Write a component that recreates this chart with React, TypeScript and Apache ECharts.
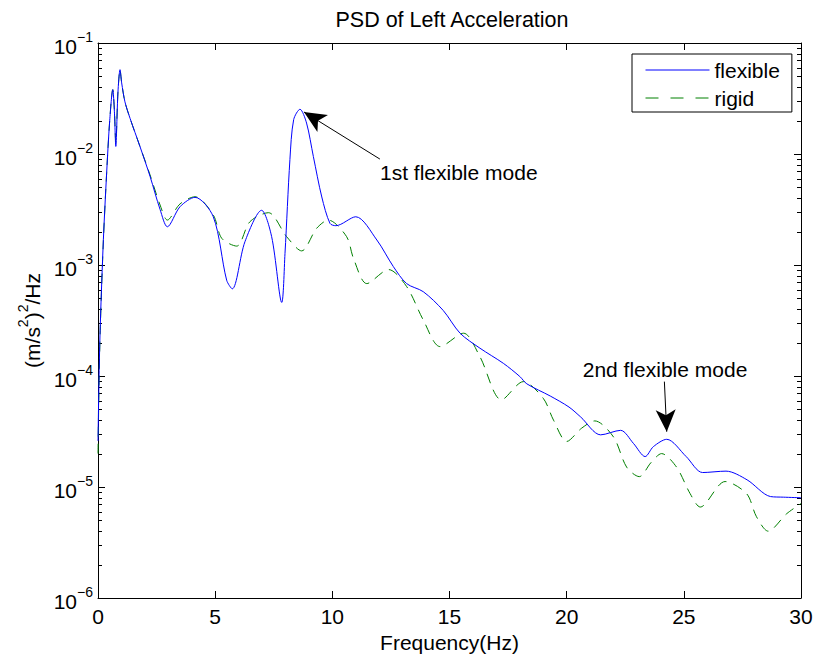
import React, { useEffect, useRef } from "react";
import * as echarts from "echarts";

const FONT = "'Liberation Sans', Arial, Helvetica, sans-serif";

// Flexible model PSD (Hz, (m/s^2)^2/Hz)
const flexFreq = [
  0.0, 0.05, 0.1, 0.23, 0.37, 0.5, 0.63, 0.7, 0.76, 0.85, 0.94, 1.01, 1.15, 1.37, 1.79, 2.22, 2.65, 2.96,
  3.5, 4.14, 4.92, 5.49, 5.73, 6.27, 6.98, 7.41, 7.84, 7.98, 8.19, 8.35, 8.62, 8.9, 9.19, 9.55, 9.9, 10.15,
  11.0, 11.9, 12.6, 13.17, 13.88, 14.73, 15.45, 16.3, 17.3, 18.0, 18.3, 19.3, 20.1, 20.6, 21.45, 22.3, 22.85,
  23.35, 23.7, 24.27, 25.1, 25.8, 26.8, 27.7, 28.7, 29.25, 30.0,
];
const flexPsd = [
  2.6e-5, 1.12e-4, 3.0e-4, 1.7e-3, 6.8e-3, 2.0e-2, 3.8e-2, 2.4e-2, 1.17e-2, 3.55e-2, 5.75e-2, 4.37e-2, 2.95e-2,
  2.09e-2, 1.17e-2, 6.3e-3, 3.16e-3, 2.21e-3, 3.35e-3, 4.07e-3, 2.72e-3, 7.3e-4, 6.1e-4, 1.62e-3, 3.11e-3,
  1.8e-3, 4.6e-4, 1.27e-3, 8.9e-3, 2.04e-2, 2.53e-2, 1.9e-2, 9.5e-3, 4.1e-3, 2.37e-3, 2.26e-3, 2.72e-3,
  1.68e-3, 9.7e-4, 6.8e-4, 5.75e-4, 3.9e-4, 2.43e-4, 1.78e-4, 1.3e-4, 9.9e-5, 8.5e-5, 6.6e-5, 5.25e-5,
  4.27e-5, 2.95e-5, 3.24e-5, 2.47e-5, 1.88e-5, 2.31e-5, 2.69e-5, 1.88e-5, 1.35e-5, 1.39e-5, 1.16e-5, 8.2e-6,
  8.1e-6, 8.0e-6,
];

// Rigid model PSD
const rigidFreq = [
  0.0, 0.05, 0.1, 0.23, 0.37, 0.5, 0.63, 0.7, 0.76, 0.85, 0.94, 1.01, 1.15, 1.37, 1.79, 2.22, 2.65, 2.96,
  3.5, 4.14, 4.92, 5.28, 5.92, 6.48, 7.27, 8.05, 8.69, 9.33, 9.83, 10.61, 10.9, 11.47, 12.4, 13.17, 13.88,
  14.6, 15.6, 16.3, 17.22, 18.15, 19.0, 19.44, 20.0, 20.64, 21.2, 22.0, 22.56, 23.1, 23.6, 24.05, 24.69,
  25.27, 25.7, 26.76, 27.68, 28.1, 28.6, 29.39, 30.0,
];
const rigidPsd = [
  2.0e-5, 1.0e-4, 2.8e-4, 1.66e-3, 6.8e-3, 2.0e-2, 3.8e-2, 2.5e-2, 1.26e-2, 3.55e-2, 5.75e-2, 4.37e-2, 2.95e-2,
  2.09e-2, 1.17e-2, 6.5e-3, 3.47e-3, 2.54e-3, 3.55e-3, 4.12e-3, 2.82e-3, 1.74e-3, 1.48e-3, 2.45e-3, 2.96e-3,
  1.8e-3, 1.34e-3, 2.14e-3, 2.54e-3, 1.8e-3, 1.15e-3, 6.8e-4, 9.1e-4, 6.4e-4, 3.2e-4, 1.84e-4, 2.43e-4,
  1.49e-4, 6.1e-5, 8.9e-5, 6.3e-5, 4.0e-5, 2.57e-5, 3.39e-5, 3.94e-5, 2.82e-5, 1.51e-5, 1.24e-5, 1.66e-5,
  2.0e-5, 1.51e-5, 8.7e-6, 6.6e-6, 1.12e-5, 8.7e-6, 5.4e-6, 4.0e-6, 5.75e-6, 7.1e-6,
];

// Axis settings
const xMin = 0;
const xMax = 30;
const xInterval = 5;
const yMin = 1e-6;
const yMax = 1e-1;
const minorDecades = [-6, -5, -4, -3, -2];
const minorMultipliers = [2, 3, 4, 5, 6, 7, 8, 9];

// Annotations: [tail, tip] in data coordinates
const annoTexts = ["1st flexible mode", "2nd flexible mode"];
const annoTail = [
  [12.03, 9.0e-3],
  [24.17, 8.9e-5],
];
const annoTip = [
  [8.79, 2.39e-2],
  [24.27, 3.15e-5],
];

const seriesNames = ["flexible", "rigid"];

export default function App() {
  const ref = useRef<HTMLDivElement>(null);

  useEffect(() => {
    document.body.style.margin = "0";
    const chart = echarts.init(ref.current!, undefined, { renderer: "svg" });

    const flexData = flexFreq.map((f, i) => [f, flexPsd[i]]);
    const rigidData = rigidFreq.map((f, i) => [f, rigidPsd[i]]);
    const minorTicks: number[][] = [];
    minorDecades.forEach((d) => {
      minorMultipliers.forEach((m) => {
        minorTicks.push([xMin, m * Math.pow(10, d)]);
      });
    });

    const axisColor = "#000";
    const labelRich = {
      b: {
        fontSize: 21,
        fontFamily: FONT,
        color: "#000",
        padding: [6, 0, 0, 0],
        verticalAlign: "bottom",
      },
      e: {
        fontSize: 14,
        fontFamily: FONT,
        color: "#000",
        verticalAlign: "top",
      },
    };

    const option: any = {
      animation: false,
      backgroundColor: "#fff",
      title: {
        text: "PSD of Left Acceleration",
        left: 447,
        textAlign: "center",
        top: 4,
        textStyle: { fontSize: 21.5, fontWeight: "normal", fontFamily: FONT, color: "#000" },
      },
      grid: { left: 98, top: 43, right: 15, bottom: 65 },
      legend: {
        data: [
          { name: seriesNames[0], lineStyle: { width: 1, type: "solid" } },
          { name: seriesNames[1], lineStyle: { width: 1, type: [13, 12] } },
        ],
        orient: "vertical",
        left: 632,
        top: 54,
        padding: [4, 12, 2, 13],
        itemWidth: 64,
        itemHeight: 14,
        itemGap: 4,
        backgroundColor: "#fff",
        borderColor: "#000",
        borderWidth: 1,
        borderRadius: 0,
        itemStyle: { opacity: 0, borderWidth: 0 },
        lineStyle: { width: 1 },
        textStyle: { fontSize: 21, fontFamily: FONT, color: "#000", lineHeight: 24 },
      },
      xAxis: [
        {
          type: "value",
          min: xMin,
          max: xMax,
          interval: xInterval,
          position: "bottom",
          axisLine: { show: true, onZero: false, lineStyle: { color: axisColor, width: 1 } },
          axisTick: { show: true, inside: true, length: 7, lineStyle: { color: axisColor } },
          splitLine: { show: false },
          axisLabel: { fontSize: 21, fontFamily: FONT, color: "#000", margin: 8 },
          name: "Frequency(Hz)",
          nameLocation: "middle",
          nameGap: 33,
          nameTextStyle: { fontSize: 21, fontFamily: FONT, color: "#000" },
        },
        {
          type: "value",
          min: xMin,
          max: xMax,
          interval: xInterval,
          position: "top",
          axisLine: { show: true, onZero: false, lineStyle: { color: axisColor, width: 1 } },
          axisTick: { show: true, inside: true, length: 7, lineStyle: { color: axisColor } },
          splitLine: { show: false },
          axisLabel: { show: false },
        },
      ],
      yAxis: [
        {
          type: "log",
          logBase: 10,
          min: yMin,
          max: yMax,
          position: "left",
          axisLine: { show: true, onZero: false, lineStyle: { color: axisColor, width: 1 } },
          axisTick: { show: true, inside: true, length: 7, lineStyle: { color: axisColor } },
          splitLine: { show: false },
          axisLabel: {
            margin: 5,
            formatter: (v: number) => `{b|10}{e|\u2212${Math.abs(Math.round(Math.log10(v)))}}`,
            rich: labelRich,
          },
          name: "{a|(m/s}{s|2}{a|)}{s|2}{a|/Hz}",
          nameLocation: "middle",
          nameGap: 55,
          nameRotate: 90,
          nameTextStyle: {
            rich: {
              a: { fontSize: 21, fontFamily: FONT, color: "#000", padding: [6, 0, 0, 0], verticalAlign: "bottom" },
              s: { fontSize: 14, fontFamily: FONT, color: "#000", verticalAlign: "top" },
            },
          },
        },
        {
          type: "log",
          logBase: 10,
          min: yMin,
          max: yMax,
          position: "right",
          axisLine: { show: true, onZero: false, lineStyle: { color: axisColor, width: 1 } },
          axisTick: { show: true, inside: true, length: 7, lineStyle: { color: axisColor } },
          splitLine: { show: false },
          axisLabel: { show: false },
        },
      ],
      graphic: [
        {
          type: "text",
          x: 380,
          y: 172,
          style: {
            text: annoTexts[0],
            fontSize: 21,
            fontFamily: FONT,
            fill: "#000",
            align: "left",
            verticalAlign: "middle",
          },
        },
        {
          type: "text",
          x: 665,
          y: 369,
          style: {
            text: annoTexts[1],
            fontSize: 21,
            fontFamily: FONT,
            fill: "#000",
            align: "center",
            verticalAlign: "middle",
          },
        },
      ],
      series: [
        {
          name: seriesNames[0],
          type: "line",
          data: flexData,
          xAxisIndex: 0,
          yAxisIndex: 0,
          showSymbol: false,
          symbol: "none",
          smooth: 0.3,
          lineStyle: { color: "#0000ff", width: 1, type: "solid" },
          itemStyle: { color: "#0000ff" },
          z: 3,
          markLine: {
            silent: true,
            symbol: ["none", "arrow"],
            symbolSize: [15, 22],
            label: { show: false },
            lineStyle: { color: "#000", width: 1, type: "solid" },
            itemStyle: { color: "#000" },
            data: annoTail.map((t, i) => [{ coord: t }, { coord: annoTip[i] }]),
          },
        },
        {
          name: seriesNames[1],
          type: "line",
          data: rigidData,
          xAxisIndex: 0,
          yAxisIndex: 0,
          showSymbol: false,
          symbol: "none",
          smooth: 0.3,
          lineStyle: { color: "#008000", width: 1, type: [10, 7] },
          itemStyle: { color: "#008000" },
          z: 2,
        },
        {
          name: "minorTicks",
          type: "custom",
          xAxisIndex: 0,
          yAxisIndex: 0,
          silent: true,
          data: minorTicks,
          renderItem: (params: any, api: any) => {
            const v = api.value(1);
            const pL = api.coord([xMin, v]);
            const pR = api.coord([xMax, v]);
            const y = Math.round(pL[1]) + 0.5;
            return {
              type: "group",
              children: [
                {
                  type: "line",
                  shape: { x1: pL[0], y1: y, x2: pL[0] + 4, y2: y },
                  style: { stroke: "#000", lineWidth: 1 },
                },
                {
                  type: "line",
                  shape: { x1: pR[0], y1: y, x2: pR[0] - 4, y2: y },
                  style: { stroke: "#000", lineWidth: 1 },
                },
              ],
            };
          },
        },
      ],
    };

    chart.setOption(option);
    return () => chart.dispose();
  }, []);

  return <div ref={ref} style={{ width: 816, height: 663 }} />;
}
